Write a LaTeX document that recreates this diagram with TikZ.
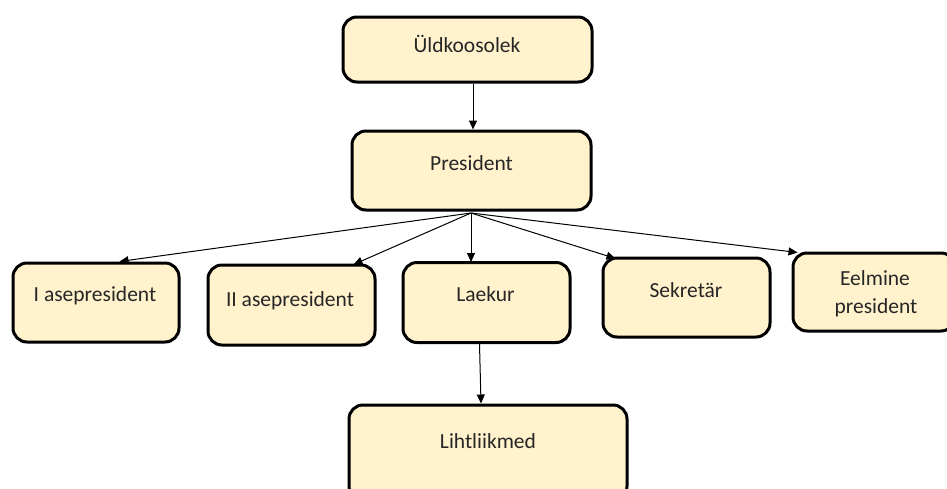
\documentclass[tikz,border=0pt]{standalone}
\usepackage{fontspec}
\setmainfont{Carlito}
\usetikzlibrary{arrows.meta}
\definecolor{boxfill}{HTML}{FFF2CC}
\definecolor{txt}{HTML}{262626}
\tikzset{
  orgbox/.style={draw=black, line width=3pt, fill=boxfill, rounded corners=14pt, inner sep=0pt},
  lbl/.style={anchor=base, text=txt, font=\fontsize{21.5}{26}\selectfont, inner sep=0pt, align=center},
  conn/.style={line width=1pt, -{Triangle[length=9pt,width=8pt]}}
}
\begin{document}
\begin{tikzpicture}[x=1pt,y=-1pt]
\useasboundingbox (0,0) rectangle (947,488);
\node[orgbox, minimum width=249pt, minimum height=65pt] (uld) at (467.5,49.5) {};
\node[orgbox, minimum width=239pt, minimum height=79pt] (pres) at (471.5,170.5) {};
\node[orgbox, minimum width=166pt, minimum height=79pt] (ase1) at (96,302.5) {};
\node[orgbox, minimum width=167pt, minimum height=80pt] (ase2) at (291.5,305) {};
\node[orgbox, minimum width=167pt, minimum height=80pt] (laek) at (486.5,302.5) {};
\node[orgbox, minimum width=167pt, minimum height=79pt] (sekr) at (686.5,297.5) {};
\node[orgbox, minimum width=162pt, minimum height=78pt] (eelm) at (874,292) {};
\node[orgbox, minimum width=278pt, minimum height=95pt] (liht) at (488,452.5) {};

\node[lbl] (tuld) at (467,52) {Üldkoosolek};
\node[lbl] (tpres) at (471.5,170) {President};
\node[lbl] (tase1) at (95,301.5) {I asepresident};
\node[lbl] (tase2) at (290,306) {II asepresident};
\node[lbl] (tlaek) at (485.5,301.5) {Laekur};
\node[lbl] (tsekr) at (686,297) {Sekretär};
\node[lbl] (teelm1) at (875,285) {Eelmine};
\node[lbl] (teelm2) at (876,313) {president};
\node[lbl] (tliht) at (488,448) {Lihtliikmed};

\coordinate (src) at ([xshift=-0.5pt,yshift=-1.5pt]pres.south);
\draw[conn] ([xshift=5.5pt]uld.south) -- ([xshift=1.5pt]pres.north);
\draw[conn] (src) -- ([xshift=108pt]ase1.north west);
\draw[conn] (src) -- ([xshift=147pt,yshift=-1pt]ase2.north west);
\draw[conn] (src) -- ([xshift=-15.5pt,yshift=-1pt]laek.north);
\draw[conn] (src) -- ([xshift=14pt,yshift=-2pt]sekr.north west);
\draw[conn] (src) -- ([xshift=6pt,yshift=-1pt]eelm.north west);
\draw[conn] ([xshift=-7pt]laek.south) -- ([xshift=-7pt]liht.north);
\end{tikzpicture}
\end{document}
